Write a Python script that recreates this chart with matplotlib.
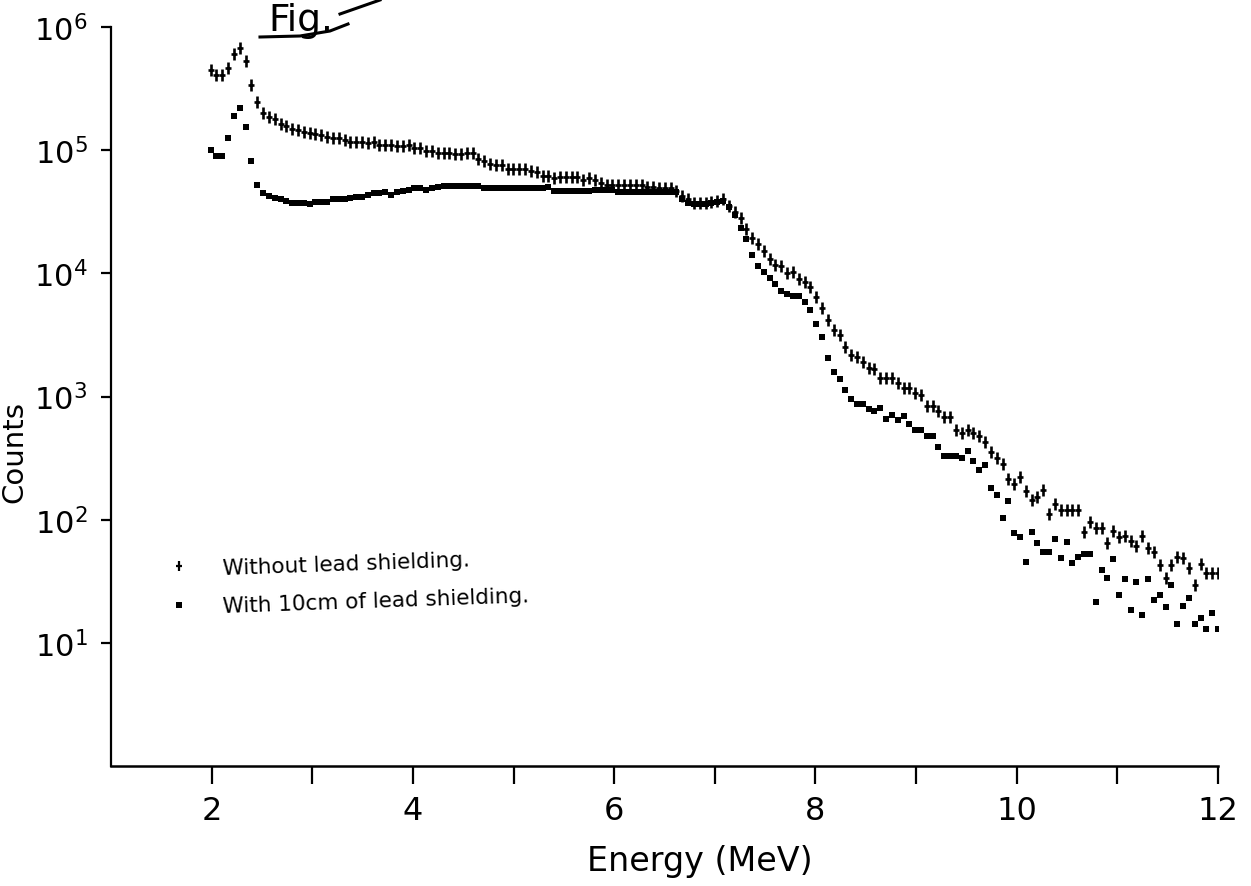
import numpy as np
import matplotlib
matplotlib.use("Agg")
import matplotlib.pyplot as plt
from matplotlib.lines import Line2D
from matplotlib.path import Path
from matplotlib.ticker import FixedLocator, FuncFormatter, NullLocator

# log10(counts) per channel, from 2 MeV to 12 MeV
log_counts_unshielded = [
    5.65, 5.61, 5.61, 5.67, 5.78, 5.83, 5.72, 5.53, 5.39, 5.30,
    5.27, 5.25, 5.21, 5.20, 5.17, 5.16, 5.15, 5.14, 5.13, 5.12,
    5.11, 5.10, 5.10, 5.08, 5.07, 5.07, 5.07, 5.06, 5.07, 5.04,
    5.04, 5.04, 5.03, 5.03, 5.04, 5.02, 5.02, 4.99, 4.99, 4.98,
    4.98, 4.98, 4.97, 4.97, 4.98, 4.98, 4.93, 4.91, 4.89, 4.88,
    4.88, 4.85, 4.85, 4.85, 4.85, 4.83, 4.82, 4.79, 4.79, 4.77,
    4.78, 4.78, 4.78, 4.78, 4.76, 4.77, 4.76, 4.73, 4.72, 4.72,
    4.72, 4.72, 4.72, 4.72, 4.72, 4.70, 4.70, 4.69, 4.69, 4.69,
    4.67, 4.63, 4.60, 4.57, 4.57, 4.57, 4.58, 4.59, 4.60, 4.55,
    4.50, 4.45, 4.36, 4.29, 4.24, 4.18, 4.12, 4.07, 4.06, 4.00,
    4.01, 3.95, 3.93, 3.89, 3.81, 3.72, 3.62, 3.54, 3.50, 3.40,
    3.34, 3.32, 3.28, 3.23, 3.22, 3.15, 3.15, 3.15, 3.11, 3.07,
    3.07, 3.03, 3.01, 2.92, 2.92, 2.88, 2.83, 2.83, 2.73, 2.70,
    2.73, 2.70, 2.68, 2.63, 2.55, 2.50, 2.45, 2.33, 2.29, 2.35,
    2.23, 2.16, 2.18, 2.24, 2.05, 2.13, 2.08, 2.08, 2.08, 2.08,
    1.90, 1.98, 1.93, 1.93, 1.81, 1.91, 1.86, 1.87, 1.83, 1.79,
    1.87, 1.77, 1.74, 1.63, 1.53, 1.63, 1.70, 1.69, 1.61, 1.47,
    1.64, 1.57, 1.57, 1.57,
]

log_counts_shielded = [
    5.00, 4.95, 4.95, 5.10, 5.28, 5.34, 5.19, 4.91, 4.72, 4.65,
    4.63, 4.61, 4.60, 4.59, 4.57, 4.57, 4.57, 4.56, 4.58, 4.58,
    4.58, 4.60, 4.60, 4.60, 4.61, 4.62, 4.62, 4.64, 4.65, 4.65,
    4.66, 4.64, 4.66, 4.67, 4.68, 4.69, 4.69, 4.68, 4.69, 4.70,
    4.71, 4.71, 4.71, 4.71, 4.71, 4.71, 4.71, 4.69, 4.69, 4.69,
    4.69, 4.69, 4.69, 4.69, 4.69, 4.69, 4.69, 4.69, 4.70, 4.67,
    4.67, 4.67, 4.67, 4.67, 4.67, 4.67, 4.68, 4.68, 4.68, 4.68,
    4.66, 4.66, 4.66, 4.66, 4.66, 4.66, 4.66, 4.66, 4.66, 4.66,
    4.66, 4.60, 4.57, 4.56, 4.56, 4.56, 4.57, 4.58, 4.59, 4.54,
    4.47, 4.37, 4.28, 4.15, 4.06, 4.01, 3.96, 3.91, 3.86, 3.83,
    3.82, 3.82, 3.77, 3.70, 3.59, 3.48, 3.31, 3.20, 3.14, 3.05,
    2.98, 2.94, 2.94, 2.90, 2.88, 2.91, 2.82, 2.85, 2.81, 2.84,
    2.78, 2.73, 2.73, 2.68, 2.68, 2.59, 2.52, 2.52, 2.52, 2.50,
    2.56, 2.48, 2.40, 2.44, 2.26, 2.20, 2.01, 2.15, 1.89, 1.86,
    1.66, 1.90, 1.81, 1.74, 1.74, 1.84, 1.69, 1.82, 1.65, 1.70,
    1.72, 1.72, 1.33, 1.59, 1.53, 1.68, 1.39, 1.52, 1.27, 1.49,
    1.23, 1.52, 1.35, 1.39, 1.29, 1.47, 1.15, 1.30, 1.36, 1.15,
    1.20, 1.11, 1.24, 1.11,
]

energy_range = (1.99, 12.0)          # MeV, first and last channel
x_major = [2, 4, 6, 8, 10, 12]
x_minor = [3, 5, 7, 9, 11]
y_decades = [1, 2, 3, 4, 5, 6]
legend_labels = ["Without lead shielding.", "With 10cm of lead shielding."]

counts_unshielded = 10.0 ** np.array(log_counts_unshielded)
counts_shielded = 10.0 ** np.array(log_counts_shielded)
energy = np.linspace(energy_range[0], energy_range[1], len(counts_unshielded))

plt.rcParams["font.family"] = ["DejaVu Sans"]
plt.rcParams["mathtext.default"] = "regular"

# tall plus sign used by the plotter
cross = Path([(0, -1.0), (0, 1.0), (-0.6, 0), (0.6, 0)],
             [Path.MOVETO, Path.LINETO, Path.MOVETO, Path.LINETO])

fig = plt.figure(figsize=(12.51, 8.87), dpi=100)
W, H = 1251, 887
ax = fig.add_axes([111 / W, 120 / H, 1107 / W, 739 / H])

ax.plot(energy, counts_unshielded, ls="none", marker=cross, ms=8, mew=1.9,
        color="black", label=legend_labels[0])
ax.plot(energy, counts_shielded, ls="none", marker="s", ms=3.8, mew=0,
        color="black", label=legend_labels[1])

ax.set_yscale("log")
ax.set_xlim(1, 12)
ax.set_ylim(1, 1e6)

for side in ("top", "right"):
    ax.spines[side].set_visible(False)
ax.spines["left"].set_linewidth(1.6)
ax.spines["bottom"].set_linewidth(1.8)

ax.xaxis.set_major_locator(FixedLocator(x_major))
ax.xaxis.set_minor_locator(FixedLocator(x_minor))
ax.tick_params(axis="x", which="both", direction="out", length=13, width=1.6,
               labelsize=23, pad=8)
ax.yaxis.set_major_locator(FixedLocator([10.0 ** d for d in y_decades]))
ax.yaxis.set_minor_locator(NullLocator())
ax.yaxis.set_major_formatter(
    FuncFormatter(lambda v, _: r"$\mathregular{10^{%d}}$" % round(np.log10(v))))
ax.tick_params(axis="y", which="major", direction="out", length=7, width=1.6,
               labelsize=22, pad=10)

ax.set_xlabel("Energy (MeV)", fontsize=24)
ax.xaxis.set_label_coords(0.532, -0.105)
ax.set_ylabel("Counts", fontsize=21)
ax.yaxis.set_label_coords(-0.075, 0.426)

leg = ax.legend(loc="center left", bbox_to_anchor=(0.052, 0.248),
                frameon=False, handlelength=1.0,
                handletextpad=1.5, labelspacing=0.35, borderpad=0,
                borderaxespad=0, prop={"family": ["DejaVu Sans"], "size": 15.5})
handles = leg.legend_handles
handles[0].set_markersize(7)
handles[0].set_markeredgewidth(1.6)
handles[1].set_markersize(5)
for t in leg.get_texts():
    t.set_rotation(2)
    t.set_rotation_mode("anchor")

# handwritten figure tag at the top of the sheet
fig.text(268 / W, 1 - 31 / H, "Fig.", fontsize=27, color="black",
         va="baseline", ha="left")
fig.add_artist(Line2D(np.array([260, 300, 330, 348]) / W,
                      1 - np.array([38, 37, 32, 25]) / H,
                      color="black", lw=2.2))
fig.add_artist(Line2D(np.array([340, 380]) / W, 1 - np.array([15, 1]) / H,
                      color="black", lw=2.2))

fig.savefig("out.png", dpi=100, facecolor="white")
